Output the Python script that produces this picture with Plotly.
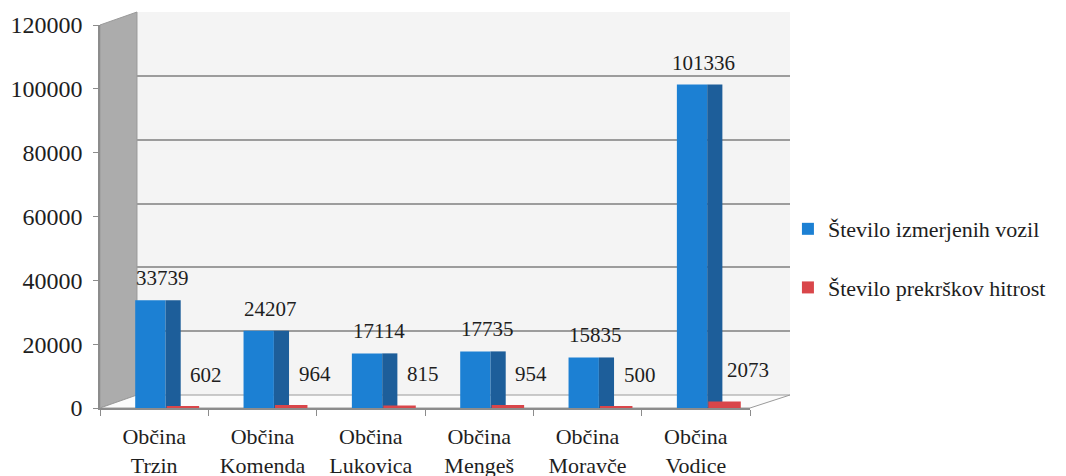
import plotly.graph_objects as go

categories = ["Občina<br>Trzin", "Občina<br>Komenda", "Občina<br>Lukovica",
              "Občina<br>Mengeš", "Občina<br>Moravče", "Občina<br>Vodice"]
vozila = [33739, 24207, 17114, 17735, 15835, 101336]
prekrski = [602, 964, 815, 954, 500, 2073]
y_ticks = [0, 20000, 40000, 60000, 80000, 100000, 120000]

FONT = "'Liberation Serif', 'Times New Roman', serif"
BLUE = "#1c80d3"
BLUE_SIDE = "#1d5e9a"
RED = "#d9464a"
TXT = "#1e1e1e"

fig = go.Figure()

# empty trace so the back-wall subplot (x/y) gets drawn
fig.add_trace(go.Scatter(x=[], y=[], xaxis="x", yaxis="y", showlegend=False,
                         hoverinfo="skip"))

# blue front face
fig.add_trace(go.Bar(
    x=categories, y=vozila, name="Število izmerjenih vozil",
    marker=dict(color=BLUE, line=dict(width=0)),
    offset=-0.175, width=0.28, xaxis="x2", yaxis="y2",
    legendgroup="a",
))
# blue side face (fake 3D depth)
fig.add_trace(go.Bar(
    x=categories, y=vozila, showlegend=False,
    marker=dict(color=BLUE_SIDE, line=dict(width=0)),
    offset=0.105, width=0.14, xaxis="x2", yaxis="y2",
    legendgroup="a", hoverinfo="skip",
))
fig.add_trace(go.Bar(
    x=categories, y=prekrski, name="Število prekrškov hitrost",
    marker=dict(color=RED, line=dict(width=0)),
    offset=0.115, width=0.30, xaxis="x2", yaxis="y2",
    legendgroup="b",
))

# value labels
for c, v in zip(categories, vozila):
    fig.add_annotation(x=c, y=v, xref="x2", yref="y2", text=str(v),
                       showarrow=False, yanchor="bottom", xshift=8, yshift=8,
                       font=dict(family=FONT, size=21, color=TXT))
for c, v in zip(categories, prekrski):
    fig.add_annotation(x=c, y=v, xref="x2", yref="y2", text=str(v),
                       showarrow=False, yanchor="bottom", xshift=52, yshift=17,
                       font=dict(family=FONT, size=21, color=TXT))

# pseudo 3D walls; target screen px, page body adds an 8px offset
W, H = 690.0, 396.0
def px(x, y):
    return f"{(x - 100) / W:.4f},{(408 - y) / H:.4f}"

shapes = [
    # back wall
    dict(type="path", xref="paper", yref="paper",
         path=f"M{px(137, 12)} L{px(790, 12)} L{px(790, 395)} L{px(137, 395)} Z",
         fillcolor="#f4f4f4", line=dict(width=0), layer="below"),
    # left wall
    dict(type="path", xref="paper", yref="paper",
         path=f"M{px(100, 25)} L{px(137, 12)} L{px(137, 395)} L{px(100, 408)} Z",
         fillcolor="#acacac", line=dict(color="#9a9a9a", width=1), layer="below"),
    # floor
    dict(type="path", xref="paper", yref="paper",
         path=f"M{px(100, 408)} L{px(750, 408)} L{px(790, 395)} L{px(137, 395)} Z",
         fillcolor="#fbfbfb", line=dict(color="#9a9a9a", width=1), layer="below"),
]

fig.update_layout(
    width=1066, height=476,
    margin=dict(l=92, r=284, t=4, b=76, autoexpand=False),
    paper_bgcolor="white",
    plot_bgcolor="rgba(0,0,0,0)",
    barmode="overlay",
    font=dict(family=FONT, size=22, color=TXT),
    shapes=shapes,
    # back wall grid
    xaxis=dict(domain=[37 / W, 1], anchor="y", showgrid=False, showticklabels=False,
               showline=False, zeroline=False, range=[0, 1], fixedrange=True),
    yaxis=dict(domain=[13 / H, 1], anchor="x", range=[0, 120000], dtick=20000,
               showgrid=True, gridcolor="#9c9c9c", gridwidth=1.5,
               showticklabels=False, zeroline=False, showline=False),
    # front axes with bars
    xaxis2=dict(domain=[0, 650 / W], anchor="y2", type="category",
                range=[-0.5, 5.5], showgrid=False, zeroline=False,
                showline=True, linecolor="#8c8c8c", linewidth=1.5,
                ticks="outside", tickson="boundaries", ticklen=6, tickcolor="#8c8c8c",
                ticklabelstandoff=8,
                tickfont=dict(family=FONT, size=22, color=TXT)),
    yaxis2=dict(domain=[0, (408 - 25) / H], anchor="x2", range=[0, 120000],
                tickvals=y_ticks, ticktext=[str(t) for t in y_ticks],
                showgrid=False, zeroline=False,
                showline=True, linecolor="#8c8c8c", linewidth=1.5,
                ticks="outside", ticklen=5, tickcolor="#8c8c8c",
                ticklabelstandoff=6,
                tickfont=dict(family=FONT, size=24, color=TXT)),
    legend=dict(x=0.997, y=0.505, xanchor="left", yanchor="top",
                traceorder="grouped", tracegroupgap=27,
                font=dict(family=FONT, size=22, color=TXT),
                bgcolor="rgba(0,0,0,0)"),
)

fig.write_html("out.html")
